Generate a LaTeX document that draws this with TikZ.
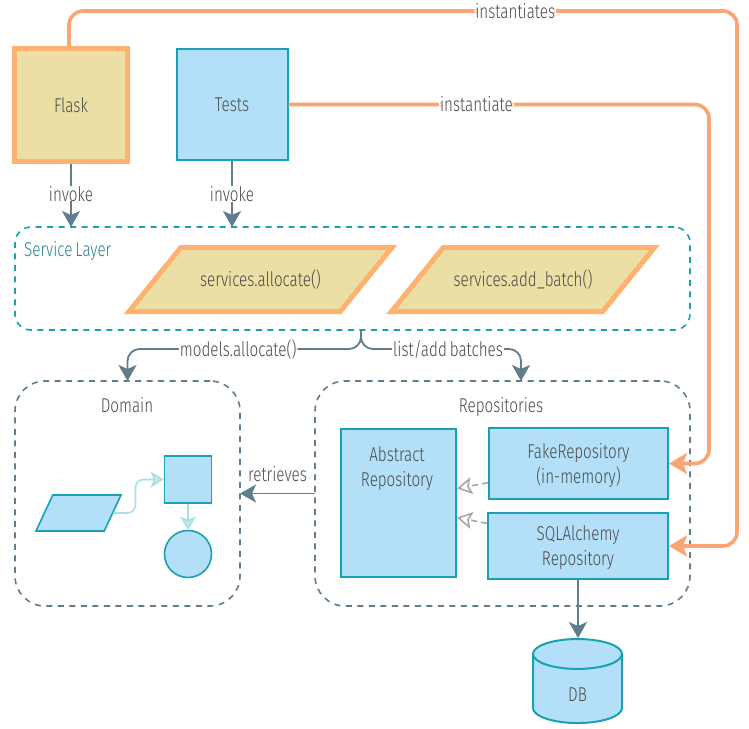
\documentclass[tikz,border=0pt]{standalone}
\usepackage{fontspec}
\setmainfont[FakeStretch=0.76,WordSpace=0.7,UprightFont=* Light]{Fira Sans}
\usetikzlibrary{arrows.meta,shapes.geometric}
\definecolor{tealLine}{HTML}{17A2B2}
\definecolor{tealText}{HTML}{2B8290}
\definecolor{skyFill}{HTML}{B3E0F8}
\definecolor{sandFill}{HTML}{ECDFA5}
\definecolor{peachLine}{HTML}{FFB26F}
\definecolor{coralLine}{HTML}{FBA474}
\definecolor{slateLine}{HTML}{607D8B}
\definecolor{paleTeal}{HTML}{A8E0E6}
\definecolor{inkText}{HTML}{4A4A4A}
\definecolor{greyLine}{HTML}{A6A6A6}

\begin{document}
\begin{tikzpicture}
[x=1pt,y=-1pt,%
  every node/.style={font=\fontsize{20}{25}\selectfont,text=inkText,align=center},%
  blueBox/.style={draw=tealLine,fill=skyFill,line width=2pt,inner sep=0pt},%
  sandBox/.style={draw=peachLine,fill=sandFill,line width=5pt,inner sep=0pt},%
  sandSlant/.style={shape=trapezium,trapezium left angle=51,trapezium right angle=129,
    trapezium stretches body,draw=peachLine,fill=sandFill,line width=5pt,inner xsep=0pt,
    inner ysep=24.5pt,text height=14pt,text depth=1pt,minimum width=263pt},%
  dashedRegion/.style={draw=slateLine,line width=1.6pt,dash pattern=on 6pt off 5.5pt,
    rounded corners=30pt,outer sep=0pt,inner sep=0pt},%
  darkArrow/.style={-{Stealth[length=16pt,width=18pt,inset=4pt]},draw=slateLine,line width=1.8pt},%
  forkArrow/.style={darkArrow,rounded corners=12pt},%
  orangeArrow/.style={-{Stealth[length=18pt,width=21pt,inset=4pt]},draw=coralLine,
    line width=3.6pt,rounded corners=14pt},%
  paleArrow/.style={-{Stealth[length=13pt,width=16pt,inset=3pt,fill=paleTeal!70]},draw=paleTeal,
    line width=1.6pt,rounded corners=8pt},%
  inheritArrow/.style={-{Stealth[length=15pt,width=17pt,inset=3pt,open]},draw=greyLine,
    line width=1.6pt,dash pattern=on 6pt off 4pt},%
  lineLabel/.style={fill=white,inner xsep=1pt,inner ysep=0pt}]
\useasboundingbox (0,0) rectangle (749,728);
%% regions
\node (layer) at (352.5,278.5) [dashedRegion,draw=tealLine,rounded corners=16pt,minimum width=675pt,minimum height=103pt] {};
\node (domain) at (127.5,493.5) [dashedRegion,minimum width=225pt,minimum height=225pt] {};
\node (repos) at (502.5,493.5) [dashedRegion,minimum width=375pt,minimum height=225pt] {};
\node (layerTitle) at (24,251) [anchor=west,inner sep=0pt,text=tealText] {Service Layer};
\node (domainTitle) at (127,405) {Domain};
\node (reposTitle) at (501,407) {Repositories};
%% boxes
\node (flask) at (71,105) [sandBox,minimum width=113pt,minimum height=113pt] {Flask};
\node (tests) at (232,104.5) [blueBox,minimum width=111pt,minimum height=111pt,text depth=0pt] {Tests};
\foreach \nodename/\x/\nodetext in {allocate/260.5/services.allocate(), addBatch/523/services.add\_batch()}
{
  \node (\nodename) at (\x,279.5) [sandSlant] {\nodetext};
}
\node (abstract) at (398.5,503) [blueBox,minimum width=115pt,minimum height=148pt] {};
\node (abstractText) at (397,468.5) {Abstract\\Repository};
\node (fake) at (578.5,463.5) [blueBox,minimum width=179pt,minimum height=71pt,text depth=0pt] {FakeRepository\\(in-memory)};
\node (sql) at (578,546) [blueBox,minimum width=180pt,minimum height=66pt,text depth=0pt] {SQLAlchemy\\Repository};
\node (db) at (577.5,689) [blueBox,shape=cylinder,shape border rotate=90,aspect=1.6,
  minimum width=89pt,minimum height=84pt,text height=24pt] {DB};
%% small domain model
\node (model) at (78.5,513) [shape=trapezium,trapezium left angle=65,trapezium right angle=115,
  trapezium stretches body,draw=tealLine,fill=skyFill,line width=1.6pt,inner xsep=0pt,
  inner ysep=18pt,minimum width=85pt] {};
\node (entity) at (188,479.5) [blueBox,line width=1.6pt,minimum width=47pt,minimum height=47pt] {};
\node (value) at (188,554) [blueBox,line width=1.6pt,shape=circle,minimum size=47pt] {};
%% free ends
\coordinate (forkTop) at (361,330);
\coordinate (forkRight) at (521,381);
\coordinate (outerCorner) at (737,11);
\coordinate (innerCorner) at (709,104.5);
%% dark edges or lines
\path
\foreach \startnode/\labelpos in {flask/0.47, tests/0.5}
{
  (\startnode.south) edge[darkArrow] node[lineLabel,pos=\labelpos] (\startnode Invoke) {invoke} (\startnode.south |- layer.north)
}
(repos.west) edge[darkArrow] node[above=11pt,inner sep=0pt] (retrieves) {retrieves} (domain.east)
(sql.south) edge[darkArrow] (sql.south |- db.north);
\draw[forkArrow] (forkTop) -- ++(0,19) -| node[lineLabel,pos=0.263] (modelsCall) {models.allocate()} (domain.north);
\draw[forkArrow] (forkTop) -- ++(0,19) -| node[lineLabel,pos=0.272] (batchCall) {list/add batches} (forkRight);
%% orange edges or lines
\draw[orangeArrow] ([xshift=-2pt]flask.north) |- node[lineLabel,pos=0.834] (instantiates) {instantiates} (outerCorner)
  -- (outerCorner |- sql.east) -- (sql.east);
\draw[orangeArrow] (tests.east) -- node[lineLabel,pos=0.447] (instantiate) {instantiate} (innerCorner)
  -- (innerCorner |- fake.east) -- (fake.east);
%% light edges or lines
\draw[paleArrow] (model.east) -- ++(22,0) |- (entity.west);
\draw[paleArrow] (entity.south) -- (value.north);
\path
\foreach \startnode/\endnode in {fake.192/abstract.14, sql.166/abstract.-14}
{
  (\startnode) edge[inheritArrow] (\endnode)
};
\end{tikzpicture}
\end{document}
